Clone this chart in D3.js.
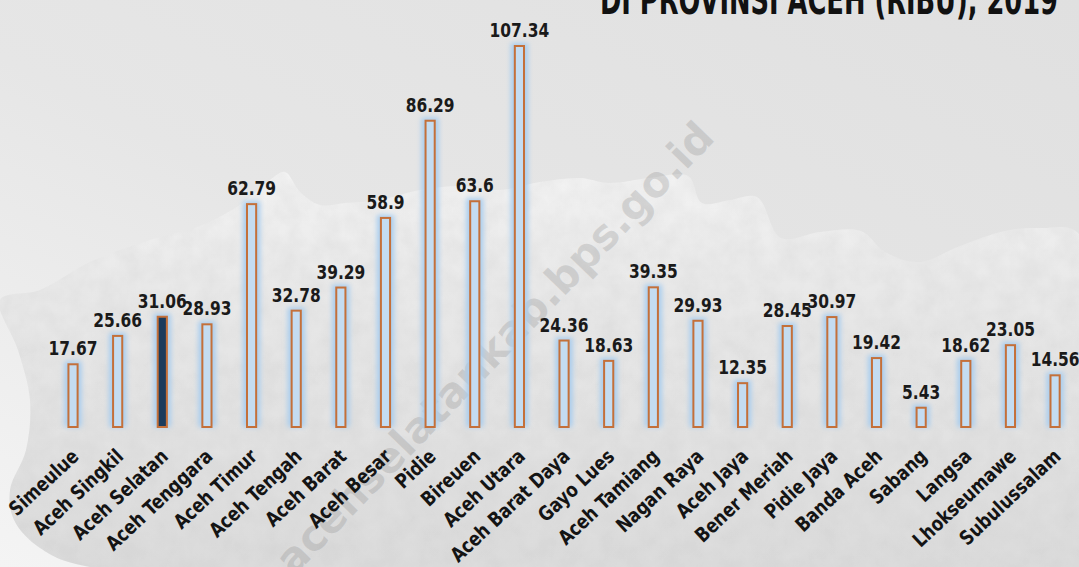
<!DOCTYPE html>
<html>
<head>
<meta charset="utf-8">
<script src="https://cdn.jsdelivr.net/npm/d3@7"></script>
<style>
  body { margin: 0; background: #e4e4e4; }
  svg { display: block; }
</style>
</head>
<body>
<svg id="chart"></svg>
<script>
// kabupaten/kota names and values (ribu)
let regions = ["Simeulue","Aceh Singkil","Aceh Selatan","Aceh Tenggara","Aceh Timur","Aceh Tengah","Aceh Barat","Aceh Besar","Pidie","Bireuen","Aceh Utara","Aceh Barat Daya","Gayo Lues","Aceh Tamiang","Nagan Raya","Aceh Jaya","Bener Meriah","Pidie Jaya","Banda Aceh","Sabang","Langsa","Lhokseumawe","Subulussalam"]
let values = [17.67,25.66,31.06,28.93,62.79,32.78,39.29,58.9,86.29,63.6,107.34,24.36,18.63,39.35,29.93,12.35,28.45,30.97,19.42,5.43,18.62,23.05,14.56]
let highlight = "Aceh Selatan"
let titleText = "DI PROVINSI ACEH (RIBU), 2019"
let watermark = "acehselatankab.bps.go.id"

let width = 1079, height = 567;
let svg = d3.select("#chart").attr("width", width).attr("height", height)
let defs = svg.append("defs")

// background gradient, lighter towards bottom left
let bg = defs.append("linearGradient").attr("id","bg").attr("x1",1).attr("y1",0).attr("x2",0).attr("y2",1)
bg.append("stop").attr("offset","0%").attr("stop-color","#e0e0e0")
bg.append("stop").attr("offset","55%").attr("stop-color","#e6e6e6")
bg.append("stop").attr("offset","100%").attr("stop-color","#f4f4f4")

let paper = defs.append("linearGradient").attr("id","paper").attr("x1",0).attr("y1",0).attr("x2",0).attr("y2",1)
paper.append("stop").attr("offset","0%").attr("stop-color","#f3f3f3")
paper.append("stop").attr("offset","25%").attr("stop-color","#e9e9e9")
paper.append("stop").attr("offset","100%").attr("stop-color","#d9d9d9")

// grainy texture
let grain = defs.append("filter").attr("id","grain").attr("x",0).attr("y",0).attr("width","100%").attr("height","100%")
grain.append("feTurbulence").attr("type","fractalNoise").attr("baseFrequency",0.05).attr("numOctaves",4).attr("seed",4).attr("result","noise")
grain.append("feColorMatrix").attr("in","noise").attr("type","matrix")
  .attr("values","0 0 0 0 0.55  0 0 0 0 0.55  0 0 0 0 0.55  0 0 0 0.35 -0.08").attr("result","tint")
grain.append("feComposite").attr("in","tint").attr("in2","SourceGraphic").attr("operator","in").attr("result","tex")
grain.append("feMerge").call(m => { m.append("feMergeNode").attr("in","SourceGraphic"); m.append("feMergeNode").attr("in","tex") })

let glow = defs.append("filter").attr("id","glow").attr("x","-100%").attr("y","-20%").attr("width","300%").attr("height","140%")
glow.append("feGaussianBlur").attr("stdDeviation",2.5)

svg.append("rect").attr("width",width).attr("height",height).attr("fill","url(#bg)")

// watercolour mountain backdrop (decoration)
let ridge = [[0,300],[40,290],[90,262],[150,240],[200,226],[240,205],[270,180],[285,172],[300,192],[320,205],[345,203],[380,200],[420,190],[460,186],[500,190],[540,182],[580,178],[609,183],[650,178],[688,176],[702,203],[730,200],[757,197],[781,238],[820,232],[861,231],[885,252],[919,262],[960,246],[1005,231],[1040,228],[1079,234]]
let outline = ridge.concat([[1079,567],[90,567],[40,548],[14,520],[10,490],[26,450],[30,400],[18,350]])
svg.append("path")
   .attr("d", d3.line().curve(d3.curveCatmullRomClosed)(outline))
   .attr("fill","url(#paper)")
   .attr("filter","url(#grain)")

// scales
let x = d3.scaleBand().domain(regions).range([50.7,1077.4]).paddingInner(0.75).paddingOuter(0.375)
let y = d3.scaleLinear().domain([0,107.34]).range([427,46])

// no narrow face installed, so squeeze the glyphs horizontally
let font = "'DejaVu Sans Condensed','DejaVu Sans',sans-serif"

// watermark
svg.append("text")
   .attr("transform","translate(505,358) rotate(-46)")
   .attr("text-anchor","middle")
   .attr("font-family","'DejaVu Sans',sans-serif")
   .attr("font-weight","bold")
   .attr("font-size",42)
   .attr("fill","rgba(130,130,130,0.25)")
   .text(watermark)

let rows = regions.map((r,i) => ({region: r, value: values[i]}))

// glow behind bars
svg.append("g").selectAll("rect").data(rows).join("rect")
   .attr("x", d => x(d.region) - 3)
   .attr("y", d => y(d.value) - 3)
   .attr("width", x.bandwidth() + 6)
   .attr("height", d => y(0) - y(d.value) + 3)
   .attr("fill","#a8cdef")
   .attr("filter","url(#glow)")

// bars
svg.append("g").selectAll("rect").data(rows).join("rect")
   .attr("x", d => x(d.region) + 1)
   .attr("y", d => y(d.value))
   .attr("width", x.bandwidth() - 2)
   .attr("height", d => y(0) - y(d.value))
   .attr("fill", d => d.region === highlight ? "#1b3b5c" : "#c4dcf1")
   .attr("stroke","#c4703a")
   .attr("stroke-width",2)

// value labels
svg.append("g").selectAll("text").data(rows).join("text")
   .attr("transform", d => `translate(${x(d.region) + x.bandwidth()/2},${y(d.value) - 9}) scale(0.86,1)`)
   .attr("text-anchor","middle")
   .attr("font-family",font)
   .attr("font-weight","bold")
   .attr("font-size",20)
   .attr("fill","#1a1a1a")
   .text(d => d.value)

// category labels
svg.append("g").selectAll("text").data(rows).join("text")
   .attr("transform", d => `translate(${x(d.region) + x.bandwidth()/2 + 7},458) rotate(-43) scale(0.92,1)`)
   .attr("text-anchor","end")
   .attr("font-family",font)
   .attr("font-weight","bold")
   .attr("font-size",20)
   .attr("fill","#141414")
   .text(d => d.region)

// title (cut at the top edge)
svg.append("text")
   .attr("x",1058).attr("y",14)
   .attr("text-anchor","end")
   .attr("font-family",font)
   .attr("font-weight","bold")
   .attr("font-size",40)
   .attr("textLength",458)
   .attr("lengthAdjust","spacingAndGlyphs")
   .attr("fill","#111")
   .text(titleText)
</script>
</body>
</html>
